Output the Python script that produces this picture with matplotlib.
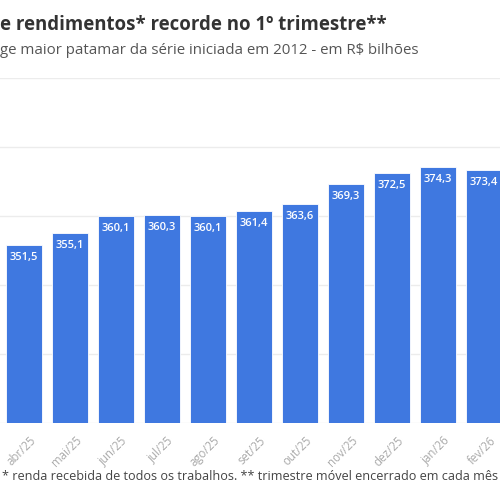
import matplotlib.pyplot as plt
import matplotlib.transforms as mtransforms

meses = ['abr/25', 'mai/25', 'jun/25', 'jul/25', 'ago/25', 'set/25',
         'out/25', 'nov/25', 'dez/25', 'jan/26', 'fev/26']
massa = [351.5, 355.1, 360.1, 360.3, 360.1, 361.4,
         363.6, 369.3, 372.5, 374.3, 373.4]
grade = [300, 320, 340, 360, 380, 400]

plt.rcParams['font.family'] = ['Open Sans', 'DejaVu Sans']

fig = plt.figure(figsize=(5, 5), dpi=100)
W = 500.0
# recorte: o grafico original continua alem das bordas
x0 = 24 - 0.65 * 46
ax = fig.add_axes([x0 / W, 77 / W, (11.3 * 46) / W, 345 / W])

x = list(range(len(meses)))
ax.bar(x, massa, width=36 / 46, bottom=0, color='#3f78e0',
       edgecolor='#ffffff', linewidth=0.6, zorder=3)

for i, v in enumerate(massa):
    ax.annotate(f'{v:.1f}'.replace('.', ','), (i, v), xytext=(0, -9),
                textcoords='offset points', ha='center', va='center',
                color='white', fontsize=8, fontweight='semibold', zorder=4)

ax.set_xlim(-0.65, 10.65)
ax.set_ylim(300, 400)
ax.set_yticks(grade)
ax.yaxis.grid(True, color='#ececec', linewidth=1, zorder=0)
ax.set_axisbelow(True)
for s in ax.spines.values():
    s.set_visible(False)
ax.tick_params(axis='both', length=0)
ax.set_yticklabels([])
ax.set_xticks(x)
ax.set_xticklabels(meses, rotation=45, ha='right', rotation_mode='anchor',
                   color='#aaaaaa', fontsize=8.3)
ax.tick_params(axis='x', pad=8)
desloc = mtransforms.ScaledTranslation(5 / 100, 0, fig.dpi_scale_trans)
for lab in ax.get_xticklabels():
    lab.set_transform(lab.get_transform() + desloc)

fig.text(0 / W, 1 - 25 / W, 'e rendimentos* recorde no 1º trimestre**',
         fontsize=13.4, fontweight='bold', color='#333333', va='center', ha='left')
fig.text(0 / W, 1 - 50 / W,
         'ge maior patamar da série iniciada em 2012 - em R$ bilhões',
         fontsize=10.8, color='#555555', va='center', ha='left')
fig.text(2 / W, 1 - 477 / W,
         '* renda recebida de todos os trabalhos. ** trimestre móvel encerrado em cada mês',
         fontsize=9.1, color='#444444', va='center', ha='left')

fig.savefig('out.png', dpi=100)
